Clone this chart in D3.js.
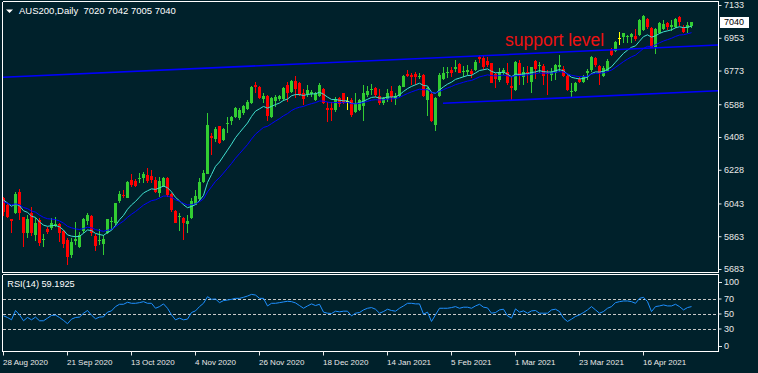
<!DOCTYPE html>
<html><head><meta charset="utf-8">
<script src="https://cdn.jsdelivr.net/npm/d3@7"></script>
<style>html,body{margin:0;padding:0;background:#00212b;}svg{display:block;}</style>
</head><body>
<script>
// ---------- DATA ----------
const symbolLabel = "AUS200,Daily";
const rsiLabel = "RSI(14) 59.1925";
const noteLabel = "support level";

const open = [
6071,6034,5957,5988,6107,5966,5878,5988,5869,5952,
5842,5900,5906,5921,5930,5891,5842,5760,5837,5805,
5891,5948,5973,5864,5836,5820,5878,5939,5933,6056,
6089,6074,6171,6168,6177,6184,6199,6195,6171,6098,
6135,6181,6093,6001,5966,5961,5930,5961,6034,6067,
6162,6205,6413,6395,6468,6392,6477,6496,6520,6514,
6538,6560,6593,6694,6681,6615,6635,6520,6604,6615,
6615,6694,6653,6716,6703,6648,6644,6642,6611,6635,
6672,6565,6565,6556,6620,6648,6608,6611,6547,6556,
6578,6639,6666,6679,6633,6593,6615,6661,6615,6633,
6684,6754,6749,6754,6740,6750,6610,6644,6474,6633,
6725,6758,6776,6780,6809,6763,6767,6771,6776,6846,
6840,6824,6813,6752,6721,6758,6767,6688,6666,6813,
6740,6767,6712,6826,6798,6798,6762,6749,6762,6795,
6780,6743,6657,6662,6726,6711,6761,6775,6840,6797,
6743,6772,6889,6882,6953,6955,6959,6959,6964,6968,
6995,7056,7004,6904,6977,6999,7032,7010,7010,7065,
7014,7004,7020];
const high = [
6080,6040,5960,6108,6120,5970,5980,6025,5961,5961,
5875,5915,5961,5966,5933,5897,5851,5851,5943,5888,
5961,5988,5979,5875,5900,5867,5959,5966,6047,6113,
6117,6168,6203,6175,6208,6217,6236,6226,6190,6190,
6190,6190,6098,6007,5988,5970,5979,6071,6117,6181,
6226,6542,6428,6465,6470,6456,6520,6523,6575,6565,
6584,6611,6688,6712,6688,6648,6639,6629,6639,6639,
6684,6712,6721,6743,6712,6670,6694,6666,6657,6703,
6675,6602,6602,6626,6630,6651,6630,6620,6648,6617,
6694,6688,6699,6684,6672,6630,6670,6688,6648,6694,
6749,6776,6758,6767,6761,6754,6683,6648,6630,6758,
6791,6795,6795,6831,6816,6798,6804,6780,6831,6859,
6859,6850,6816,6758,6785,6785,6813,6740,6826,6831,
6794,6798,6795,6831,6822,6809,6776,6785,6807,6859,
6797,6748,6706,6711,6739,6748,6779,6852,6848,6803,
6797,6836,6898,6937,6982,6980,6968,6977,6999,7054,
7078,7059,7014,7004,7041,7050,7041,7050,7059,7072,
7023,7041,7042];
const low = [
5975,5965,5883,5985,5952,5805,5851,5864,5838,5811,
5805,5873,5896,5911,5833,5796,5705,5741,5815,5800,
5878,5925,5864,5783,5815,5760,5875,5897,5924,6046,
6071,6071,6135,6135,6153,6153,6157,6153,6098,6080,
6131,6080,5998,5933,5893,5842,5882,5955,6034,6058,
6153,6205,6309,6382,6370,6388,6432,6474,6511,6501,
6529,6556,6589,6648,6615,6593,6498,6511,6575,6608,
6608,6602,6648,6620,6633,6584,6626,6630,6608,6630,
6589,6492,6498,6547,6575,6589,6556,6520,6538,6553,
6496,6630,6639,6630,6584,6584,6602,6602,6584,6630,
6681,6736,6694,6694,6725,6630,6524,6492,6443,6630,
6721,6730,6736,6767,6758,6740,6749,6730,6772,6813,
6776,6794,6703,6676,6712,6749,6694,6606,6663,6694,
6694,6703,6648,6725,6758,6694,6639,6716,6721,6767,
6739,6662,6629,6656,6702,6702,6721,6766,6795,6693,
6738,6768,6852,6875,6916,6926,6922,6922,6937,6962,
6992,6999,6895,6863,6973,6995,6995,6992,7004,7017,
6977,6977,7005];
const close = [
5998,5970,5948,6095,5988,5878,5955,5878,5937,5827,
5847,5888,5937,5928,5878,5820,5750,5833,5847,5869,
5957,5979,5878,5809,5845,5847,5955,5948,6043,6095,
6084,6162,6144,6139,6184,6204,6166,6171,6107,6168,
6181,6089,6007,5937,5974,5937,5948,6056,6084,6162,
6212,6474,6401,6450,6377,6450,6483,6516,6565,6556,
6578,6602,6684,6681,6620,6635,6525,6620,6630,6633,
6675,6648,6716,6672,6639,6615,6666,6657,6648,6694,
6593,6556,6556,6615,6589,6593,6608,6529,6587,6611,
6648,6661,6672,6639,6593,6624,6651,6630,6633,6688,
6743,6743,6740,6736,6743,6634,6678,6496,6621,6749,
6762,6765,6758,6794,6762,6772,6776,6752,6818,6835,
6795,6804,6707,6725,6767,6776,6703,6676,6818,6743,
6767,6762,6791,6780,6804,6743,6754,6767,6804,6804,
6743,6666,6662,6706,6711,6742,6770,6845,6805,6761,
6788,6827,6858,6931,6953,6977,6964,6971,6944,7050,
7072,7014,6898,6999,7032,7028,7014,7023,7056,7041,
6986,7023,7040];
const rsi = [
46.9,44.7,41.6,54.0,48.2,40.3,44.7,41.6,45.2,40.3,
40.3,43.8,47.4,47.8,44.7,40.8,36.4,42.5,44.7,45.2,
50.4,54.0,47.8,43.0,45.2,45.6,51.8,53.5,59.2,62.3,
62.3,65.0,63.6,63.6,64.5,65.8,63.6,63.6,57.0,59.2,
62.8,57.0,48.2,41.6,43.8,41.6,42.5,51.3,53.5,59.2,
63.6,72.4,68.9,69.4,64.5,67.2,68.0,68.9,70.2,70.2,
71.6,73.3,75.5,74.6,70.2,70.2,60.1,63.6,63.6,64.5,
65.4,66.3,65.8,64.1,60.6,57.0,60.1,62.8,60.6,62.3,
51.8,50.4,50.0,53.1,52.2,53.1,53.1,46.9,50.4,51.3,
54.8,57.0,57.9,55.7,50.4,52.6,55.7,54.0,53.1,57.0,
60.1,63.6,63.6,62.8,62.8,49.1,51.8,39.4,48.2,57.0,
57.0,57.0,57.9,59.2,57.0,58.4,58.4,57.0,60.1,62.3,
58.4,57.5,50.4,51.3,54.8,55.7,46.9,43.8,56.2,51.8,
53.5,50.4,53.5,54.0,50.4,50.4,50.4,54.8,55.7,52.6,
43.8,39.4,42.5,46.0,48.2,51.3,54.8,59.2,54.8,50.4,
52.6,57.0,59.2,64.5,65.8,66.7,66.7,65.8,63.6,70.2,
71.6,65.8,52.6,59.2,60.1,61.4,60.1,60.1,62.3,59.2,
54.8,57.9,59.19];

// moving averages (EMA periods and values read at first bar)
const maPeriods = [10, 20];
const maStartValues = [6062, 6052];

// trend / support lines: [bar index, price] at both ends
const lineStartIdx = [0, 110];
const lineStartPrice = [6736, 6593];
const lineEndIdx = [178.75, 178.75];
const lineEndPrice = [6913, 6662];

const priceTicks = [7133, 6953, 6773, 6588, 6408, 6228, 6043, 5863, 5683];
const rsiLevels = [70, 50, 30];
const rsiEdgeTicks = [100, 0];
const xTickIdx = [0, 16, 32, 48, 64, 80, 96, 112, 128, 144, 160];
const xTickLabels = ["28 Aug 2020","21 Sep 2020","13 Oct 2020","4 Nov 2020","26 Nov 2020","18 Dec 2020","14 Jan 2021","5 Feb 2021","1 Mar 2021","23 Mar 2021","16 Apr 2021"];

// ---------- STYLE ----------
const BG = "#00212b", FG = "#ffffff", AX = "#e8e8e8";
const GREEN = "#32cd32", RED = "#ff0000", DOJI = "#ffff00";
const MA_COLORS = ["#40e0d0", "#0000ff"];
const LINE_BLUE = "#0000ff", RSI_COLOR = "#1e90ff";
const FONT = '"Liberation Sans", Arial, sans-serif';

const W = 758, H = 373;
const svg = d3.select("body").append("svg").attr("width", W).attr("height", H);
svg.append("rect").attr("width", W).attr("height", H).attr("fill", BG);

const defs = svg.append("defs");
defs.append("clipPath").attr("id", "cm").append("rect").attr("x", 3).attr("y", 2).attr("width", 715.5).attr("height", 270);
defs.append("clipPath").attr("id", "cr").append("rect").attr("x", 3).attr("y", 275).attr("width", 715.5).attr("height", 76);

const x = d3.scaleLinear().domain([0, 178.75]).range([3, 718]);
const y = d3.scaleLinear().domain([5683, 7133]).range([269, 5]);
const yr = d3.scaleLinear().domain([0, 100]).range([351, 276]);

// ---------- MAIN PANEL ----------
const main = svg.append("g").attr("clip-path", "url(#cm)");
const idx = d3.range(close.length);
const col = i => close[i] > open[i] ? GREEN : (close[i] < open[i] ? RED : DOJI);

main.selectAll("rect.wick").data(idx).join("rect").attr("class", "wick")
  .attr("x", i => Math.round(x(i))).attr("width", 1)
  .attr("y", i => Math.round(y(high[i])))
  .attr("height", i => Math.max(1, Math.round(y(low[i])) - Math.round(y(high[i]))))
  .attr("fill", col).attr("shape-rendering", "crispEdges");

main.selectAll("rect.body").data(idx).join("rect").attr("class", "body")
  .attr("x", i => Math.round(x(i)) - 1).attr("width", 3)
  .attr("y", i => Math.round(y(Math.max(open[i], close[i]))))
  .attr("height", i => Math.max(1, Math.round(y(Math.min(open[i], close[i]))) - Math.round(y(Math.max(open[i], close[i])))))
  .attr("fill", col).attr("shape-rendering", "crispEdges");

// EMA lines
function ema(vals, period, start) {
  const k = 2 / (period + 1), out = [start];
  for (let i = 1; i < vals.length; i++) out.push(out[i - 1] + k * (vals[i] - out[i - 1]));
  return out;
}
const lineGen = d3.line().x((d, i) => x(i) + 0.5).y(d => y(d));
maPeriods.forEach((p, j) => {
  main.append("path").datum(ema(close, p, maStartValues[j]))
    .attr("d", lineGen).attr("fill", "none").attr("stroke", MA_COLORS[j]).attr("stroke-width", 1);
});

// support / trend lines
lineStartIdx.forEach((s, j) => {
  main.append("line")
    .attr("x1", x(s)).attr("y1", y(lineStartPrice[j]))
    .attr("x2", x(lineEndIdx[j])).attr("y2", y(lineEndPrice[j]))
    .attr("stroke", LINE_BLUE).attr("stroke-width", 1.6);
});

// annotation
svg.append("text").attr("x", 505).attr("y", 46).text(noteLabel)
  .attr("fill", "#ee1111").style("font-family", FONT).style("font-size", "17.5px");

// ---------- RSI PANEL ----------
const rp = svg.append("g").attr("clip-path", "url(#cr)");
rsiLevels.forEach(v => {
  rp.append("line").attr("x1", 3).attr("x2", 718).attr("y1", yr(v) + 0.5).attr("y2", yr(v) + 0.5)
    .attr("stroke", "#c8c8c8").attr("stroke-dasharray", "3,2").attr("shape-rendering", "crispEdges");
});
rp.append("path").datum(rsi)
  .attr("d", d3.line().x((d, i) => x(i) + 0.5).y(d => yr(d)))
  .attr("fill", "none").attr("stroke", RSI_COLOR).attr("stroke-width", 1);

// ---------- FRAMES ----------
const frame = svg.append("g").attr("stroke", FG).attr("stroke-width", 1).attr("shape-rendering", "crispEdges");
[[2.5, 1.5, 718.5, 1.5], [2.5, 272.5, 718.5, 272.5], [2.5, 1.5, 2.5, 272.5], [718.5, 1.5, 718.5, 272.5],
 [2.5, 274.5, 718.5, 274.5], [2.5, 351.5, 718.5, 351.5], [2.5, 274.5, 2.5, 351.5], [718.5, 274.5, 718.5, 351.5]]
 .forEach(l => frame.append("line").attr("x1", l[0]).attr("y1", l[1]).attr("x2", l[2]).attr("y2", l[3]));

// ---------- AXES ----------
const gy = svg.append("g").attr("transform", "translate(718.5,0)")
  .call(d3.axisRight(y).tickValues(priceTicks).tickSize(3).tickPadding(2.5).tickFormat(d3.format("d")));
gy.select(".domain").remove();
gy.selectAll("line").attr("stroke", AX);
gy.selectAll("text").attr("fill", AX).style("font-family", FONT).style("font-size", "9px");

// current price label
const lastClose = close[close.length - 1];
svg.append("rect").attr("x", 719.5).attr("y", Math.round(y(lastClose)) - 5.5).attr("width", 29).attr("height", 11)
  .attr("fill", "#ffffff").attr("shape-rendering", "crispEdges");
svg.append("text").attr("x", 724).attr("y", y(lastClose)).attr("dy", "0.35em").text(lastClose)
  .attr("fill", "#000000").style("font-family", FONT).style("font-size", "9px");

const gr = svg.append("g").attr("transform", "translate(718.5,0)")
  .call(d3.axisRight(yr).tickValues(rsiLevels).tickSize(3).tickPadding(2.5));
gr.select(".domain").remove();
gr.selectAll("line").attr("stroke", AX);
gr.selectAll("text").attr("fill", AX).style("font-family", FONT).style("font-size", "9px");
rsiEdgeTicks.forEach(v => {
  const py = v === 100 ? yr(v) + 6 : yr(v) - 5;
  svg.append("line").attr("x1", 718.5).attr("x2", 721.5).attr("y1", Math.round(py) + 0.5).attr("y2", Math.round(py) + 0.5)
    .attr("stroke", AX).attr("shape-rendering", "crispEdges");
  svg.append("text").attr("x", 724).attr("y", py).attr("dy", "0.32em").text(v)
    .attr("fill", AX).style("font-family", FONT).style("font-size", "9px");
});

const gx = svg.append("g").attr("transform", "translate(0,351.5)")
  .call(d3.axisBottom(x).tickValues(xTickIdx).tickSize(4).tickFormat((d, i) => xTickLabels[i]));
gx.select(".domain").remove();
gx.selectAll("line").attr("stroke", AX);
gx.selectAll("text").attr("fill", AX).attr("text-anchor", "start").attr("x", -0.5).attr("y", 13).attr("dy", 0)
  .style("font-family", FONT).style("font-size", "8px");

// ---------- TITLES ----------
svg.append("path").attr("d", "M6,9.5L13,9.5L9.5,13Z").attr("fill", FG);
svg.append("text").attr("x", 19).attr("y", 14)
  .text(symbolLabel + "  " + [open, high, low, close].map(a => a[a.length - 1]).join(" "))
  .attr("fill", FG).attr("xml:space", "preserve").style("white-space", "pre")
  .style("font-family", FONT).style("font-size", "9.5px");
svg.append("text").attr("x", 7.3).attr("y", 287).text(rsiLabel)
  .attr("fill", FG).style("font-family", FONT).style("font-size", "9.2px");
</script>
</body></html>
